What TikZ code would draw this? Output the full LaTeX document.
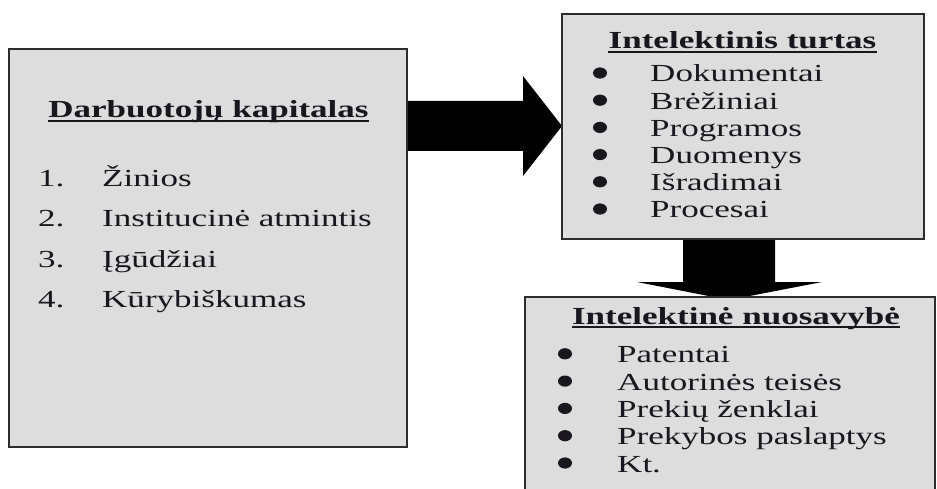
\documentclass[tikz,border=0pt]{standalone}
\usepackage{fontspec}
\setmainfont{Liberation Serif}[FakeStretch=1.43]
\usetikzlibrary{calc}
\definecolor{boxfill}{RGB}{221,221,221}
\definecolor{edge}{RGB}{45,45,45}
\definecolor{ink}{RGB}{25,22,30}

\begin{document}
\begin{tikzpicture}[x=1pt,y=-1pt,
  box/.style={draw=edge, line width=1.6pt, fill=boxfill, inner sep=0pt, outer sep=0pt, rectangle},
  headline/.style={font=\fontsize{24.5}{28}\selectfont\bfseries, text=ink, inner sep=0pt, anchor=base},
  entry/.style={font=\fontsize{24.5}{28}\selectfont, text=ink, inner sep=0pt, anchor=base west},
  uline/.style={draw=ink, line width=1.4pt},
  blockarrow/.style={fill=black}]
\useasboundingbox (0,0) rectangle (937,489);

% block arrows (drawn first so the box edges lie over their ends)
\fill[blockarrow] (407,101) -- (523,101) -- (523,76) -- (562,126) -- (523,176) -- (523,151) -- (407,151) -- cycle;
\fill[blockarrow] (683,239) -- (775,239) -- (775,282) -- (822,282) -- (729,300) -- (637,282) -- (683,282) -- cycle;

% boxes
\node[box, minimum width=398pt, minimum height=398pt] (kap) at (208,248) {};
\node[box, minimum width=362pt, minimum height=225pt] (turtas) at (743,126.5) {};
\node[box, minimum width=410pt, minimum height=210pt] (nuos) at (730,402) {};

% left box: employee capital
\node[headline] (t1) at (208.5,118) {Darbuotojų kapitalas};
\draw[uline] ($(t1.base west)+(0,3)$) -- ($(t1.base east)+(0,3)$);
\foreach \n/\txt [count=\i] in {1/Žinios, 2/Institucinė atmintis, 3/Įgūdžiai, 4/Kūrybiškumas}{
  \node[entry] (kn\i) at (38,{147+40*\i}) {\n.};
  \node[entry] (kt\i) at (102,{147+40*\i}) {\txt};
}

% top right box: intellectual assets
\node[headline] (t2) at (742.5,49) {Intelektinis turtas};
\draw[uline] ($(t2.base west)+(0,3)$) -- ($(t2.base east)+(0,3)$);
\foreach \txt [count=\i] in {Dokumentai, Brėžiniai, Programos, Duomenys, Išradimai, Procesai}{
  \node[entry] (tt\i) at (650,{54.8+27.2*\i}) {\txt};
  \fill[ink] ($(tt\i.base west)+(-50,-9)$) ellipse [x radius=7pt, y radius=5.6pt];
}

% bottom box: intellectual property
\node[headline] (t3) at (736,324) {Intelektinė nuosavybė};
\draw[uline] ($(t3.base west)+(0,3)$) -- ($(t3.base east)+(0,3)$);
\foreach \txt [count=\i] in {Patentai, Autorinės teisės, Prekių ženklai, Prekybos paslaptys, Kt.}{
  \node[entry] (nt\i) at (617,{335.5+27.3*\i}) {\txt};
  \fill[ink] ($(nt\i.base west)+(-52,-9)$) ellipse [x radius=7pt, y radius=5.6pt];
}
\end{tikzpicture}
\end{document}
